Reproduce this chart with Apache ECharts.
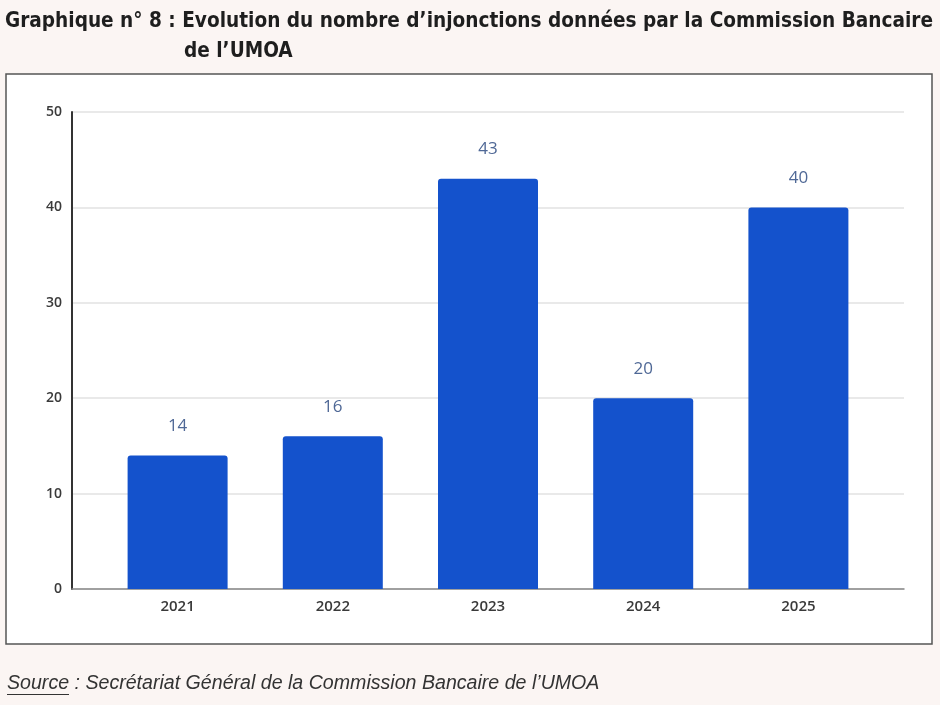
<!DOCTYPE html>
<html>
<head>
<meta charset="utf-8">
<script src="https://cdn.jsdelivr.net/npm/echarts@6/dist/echarts.min.js"></script>
<style>
  html, body { margin: 0; padding: 0; background: #fbf5f3; }
  #m { width: 940px; height: 705px; }
</style>
</head>
<body>
<div id="m"></div>
<script>
var years = ['2021', '2022', '2023', '2024', '2025'];
var injonctions = [14, 16, 43, 20, 40];
var yTicks = { min: 0, max: 50, interval: 10 };

var myChart = echarts.init(document.getElementById('m'));
var titleFont = { fontFamily: 'DejaVu Sans Condensed', fontWeight: 'bold', fontSize: 20.6, color: '#1e1e1e' };
var option = {
    backgroundColor: '#fbf5f3',
    title: [
        {
            text: 'Graphique n° 8 : Evolution du nombre d\u2019injonctions données par la Commission Bancaire',
            left: 5, top: 11, padding: 0,
            textStyle: titleFont
        },
        {
            text: 'de l\u2019UMOA',
            left: 184, top: 41, padding: 0,
            textStyle: titleFont
        },
        {
            text: 'Source : Secrétariat Général de la Commission Bancaire de l\u2019UMOA',
            left: 7, top: 674, padding: 0,
            textStyle: { fontFamily: 'Liberation Sans', fontStyle: 'italic', fontWeight: 'normal', fontSize: 19.6, color: '#333' }
        }
    ],
    graphic: [
        {
            type: 'rect', z: -10,
            shape: { x: 6, y: 74, width: 926, height: 570 },
            style: { fill: '#ffffff', stroke: '#555', lineWidth: 1.5 }
        },
        {
            type: 'line', z: 10,
            shape: { x1: 7, y1: 694.5, x2: 69, y2: 694.5 },
            style: { stroke: '#333', lineWidth: 1 }
        }
    ],
    grid: [
        { left: 100, right: 64, top: 112, bottom: 116 },
        { left: 72, right: 36, top: 112, bottom: 116 }
    ],
    xAxis: [
        {
            type: 'category', gridIndex: 0, data: years,
            axisLine: { show: false }, axisTick: { show: false },
            axisLabel: { margin: 10, fontFamily: 'Open Sans', fontSize: 15, fontWeight: 600, color: '#3a3a3a' }
        },
        {
            type: 'value', gridIndex: 1, min: 0, max: 1,
            axisLine: { show: true, lineStyle: { color: '#888', width: 1.5 } },
            axisTick: { show: false }, axisLabel: { show: false }, splitLine: { show: false }
        }
    ],
    yAxis: [
        {
            type: 'value', gridIndex: 0, min: yTicks.min, max: yTicks.max, interval: yTicks.interval,
            show: false
        },
        {
            type: 'value', gridIndex: 1, min: yTicks.min, max: yTicks.max, interval: yTicks.interval,
            axisLine: { show: true, lineStyle: { color: '#333', width: 2 } },
            axisTick: { show: false },
            axisLabel: { margin: 10, fontFamily: 'Open Sans', fontSize: 14, fontWeight: 600, color: '#3a3a3a' },
            splitLine: { show: true, lineStyle: { color: '#e2e2e2', width: 1.5 } }
        }
    ],
    series: [
        {
            name: 'Injonctions',
            type: 'bar',
            xAxisIndex: 0, yAxisIndex: 0,
            barWidth: 100,
            data: injonctions,
            itemStyle: { color: '#1452cc', borderRadius: [3, 3, 0, 0] },
            label: {
                show: true, position: 'top', distance: 21,
                fontFamily: 'Open Sans', fontSize: 17, color: '#4f6896'
            }
        }
    ]
};

myChart.setOption(option);
</script>
</body>
</html>
